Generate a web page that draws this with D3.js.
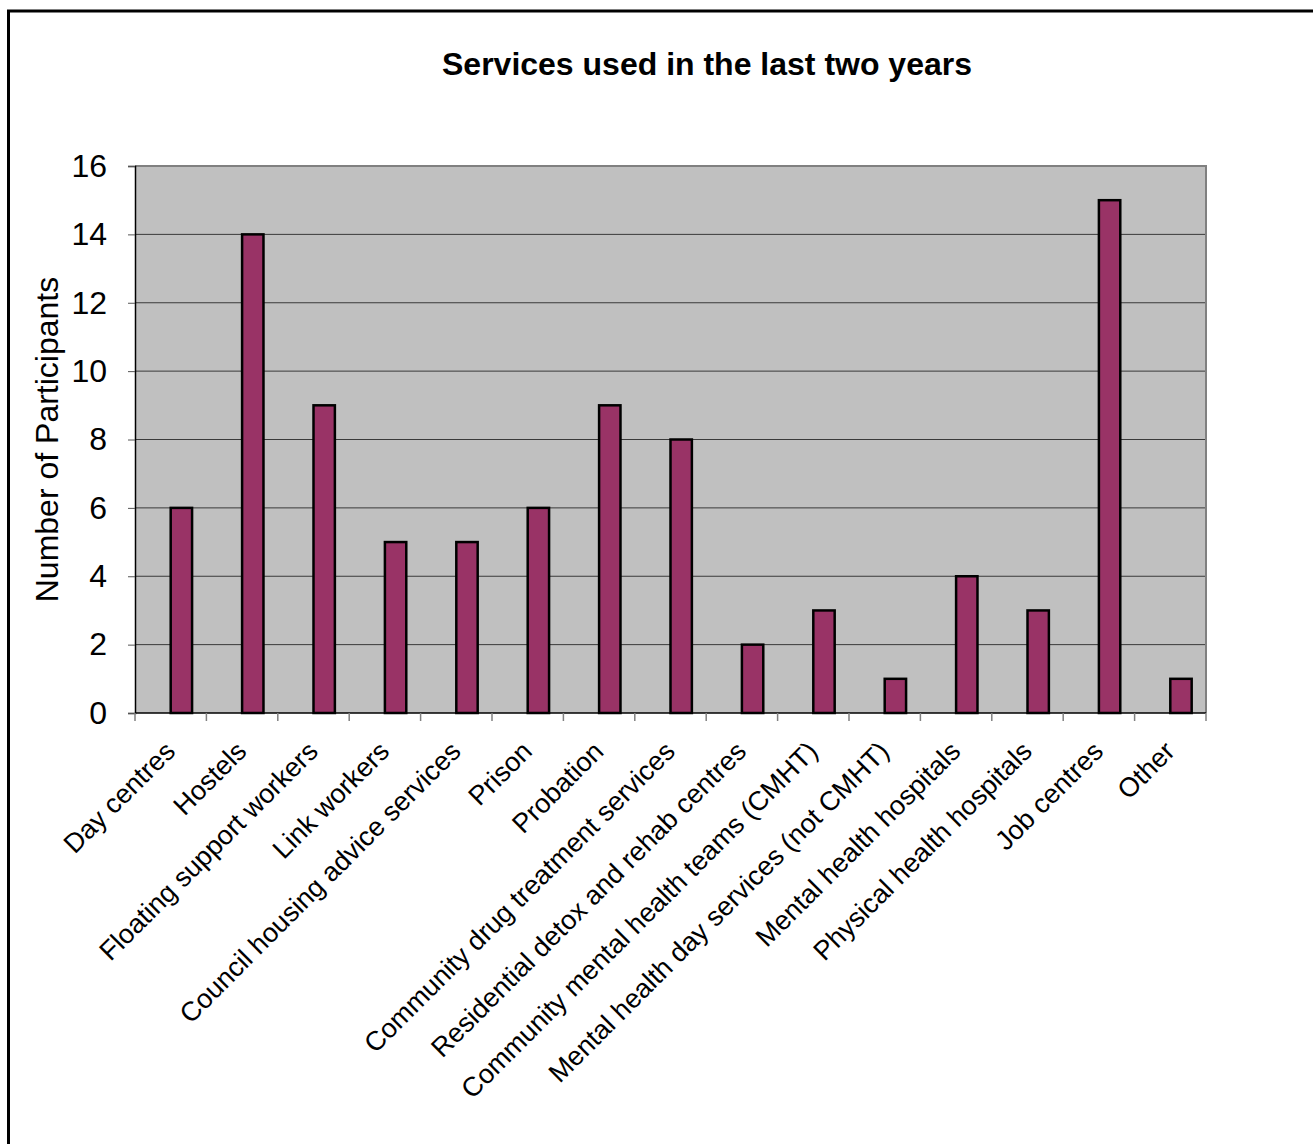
<!DOCTYPE html>
<html>
<head>
<meta charset="utf-8">
<script src="https://cdn.jsdelivr.net/npm/d3@7"></script>
<style>
  html, body { margin: 0; padding: 0; background: #fff; }
  svg { display: block; font-family: Arial, "Liberation Sans", sans-serif; }
</style>
</head>
<body>
<svg id="chart" width="1313" height="1144"></svg>
<script>
// Services used by participants over the last two years
const categories = [
  "Day centres",
  "Hostels",
  "Floating support workers",
  "Link workers",
  "Council housing advice services",
  "Prison",
  "Probation",
  "Community drug treatment services",
  "Residential detox and rehab centres",
  "Community mental health teams (CMHT)",
  "Mental health day services (not CMHT)",
  "Mental health hospitals",
  "Physical health hospitals",
  "Job centres",
  "Other"
];
const participants = [6, 14, 9, 5, 5, 6, 9, 8, 2, 3, 1, 4, 3, 15, 1];
const yTicks = [0, 2, 4, 6, 8, 10, 12, 14, 16];
// Two series slots per category; only the second one carries values
const seriesSlots = ["blank", "participants"];

const titleText = "Services used in the last two years";
const yTitleText = "Number of Participants";

const svg = d3.select("#chart");
const plot = { left: 135, right: 1206, top: 166, bottom: 713 };

// Outer chart frame (continues beyond the right and bottom edges)
svg.append("rect")
  .attr("x", 8.5).attr("y", 11)
  .attr("width", 1400).attr("height", 1200)
  .attr("fill", "#fff").attr("stroke", "#000").attr("stroke-width", 3);

const x = d3.scaleBand().domain(categories).range([plot.left, plot.right]).padding(0);
const xSlot = d3.scaleBand().domain(seriesSlots).range([0, x.bandwidth()])
  .paddingInner(0).paddingOuter(0.67);
const y = d3.scaleLinear().domain([0, 16]).range([plot.bottom, plot.top]);

// Plot background
svg.append("rect")
  .attr("x", plot.left).attr("y", plot.top)
  .attr("width", plot.right - plot.left).attr("height", plot.bottom - plot.top)
  .attr("fill", "#c0c0c0");

// Horizontal gridlines
svg.append("g")
  .selectAll("line")
  .data(yTicks.filter(d => d > 0 && d < 16))
  .join("line")
  .attr("x1", plot.left).attr("x2", plot.right)
  .attr("y1", d => y(d)).attr("y2", d => y(d))
  .attr("stroke", "#3a3a3a").attr("stroke-width", 1);

// Plot frame: top and right edges in grey
svg.append("path")
  .attr("d", `M${plot.left},${y(16)}H${plot.right}V${plot.bottom}`)
  .attr("fill", "none").attr("stroke", "#808080").attr("stroke-width", 2);

// Bars
svg.append("g")
  .selectAll("rect")
  .data(categories.map((c, i) => ({ c, v: participants[i] })))
  .join("rect")
  .attr("x", d => x(d.c) + xSlot("participants"))
  .attr("y", d => y(d.v))
  .attr("width", xSlot.bandwidth())
  .attr("height", d => y(0) - y(d.v))
  .attr("fill", "#993366")
  .attr("stroke", "#000").attr("stroke-width", 2.5);

// Y axis
const yAxis = svg.append("g")
  .attr("transform", `translate(${plot.left},0)`)
  .call(d3.axisLeft(y).tickValues(yTicks).tickSize(7).tickPadding(21).tickFormat(d3.format("d")));
yAxis.select(".domain").attr("stroke", "#000").attr("stroke-width", 1.5);
yAxis.selectAll(".tick line").attr("stroke", "#555");
yAxis.selectAll(".tick text")
  .attr("font-size", 32).attr("fill", "#000")
  .attr("font-family", "Arial, 'Liberation Sans', sans-serif");

// X axis with ticks at category boundaries
const xAxis = svg.append("g")
  .attr("transform", `translate(0,${plot.bottom})`);
xAxis.append("line")
  .attr("x1", plot.left).attr("x2", plot.right)
  .attr("stroke", "#000").attr("stroke-width", 1.5);
xAxis.selectAll("line.tick")
  .data(categories.concat(["end"]))
  .join("line").attr("class", "tick")
  .attr("x1", (d, i) => i < categories.length ? x(d) : plot.right)
  .attr("x2", (d, i) => i < categories.length ? x(d) : plot.right)
  .attr("y1", 0).attr("y2", 8)
  .attr("stroke", "#808080").attr("stroke-width", 1.5);

// Rotated category labels
xAxis.selectAll("text")
  .data(categories)
  .join("text")
  .attr("transform", d => `translate(${x(d) + x.bandwidth() / 2 + 6},${40}) rotate(-45)`)
  .attr("text-anchor", "end")
  .attr("font-size", 27)
  .attr("fill", "#000")
  .text(d => d);

// Title
svg.append("text")
  .attr("x", 707).attr("y", 75)
  .attr("text-anchor", "middle")
  .attr("font-size", 32).attr("font-weight", "bold")
  .text(titleText);

// Y axis title
svg.append("text")
  .attr("transform", `translate(58,${(plot.top + plot.bottom) / 2}) rotate(-90)`)
  .attr("text-anchor", "middle")
  .attr("font-size", 32)
  .text(yTitleText);
</script>
</body>
</html>
